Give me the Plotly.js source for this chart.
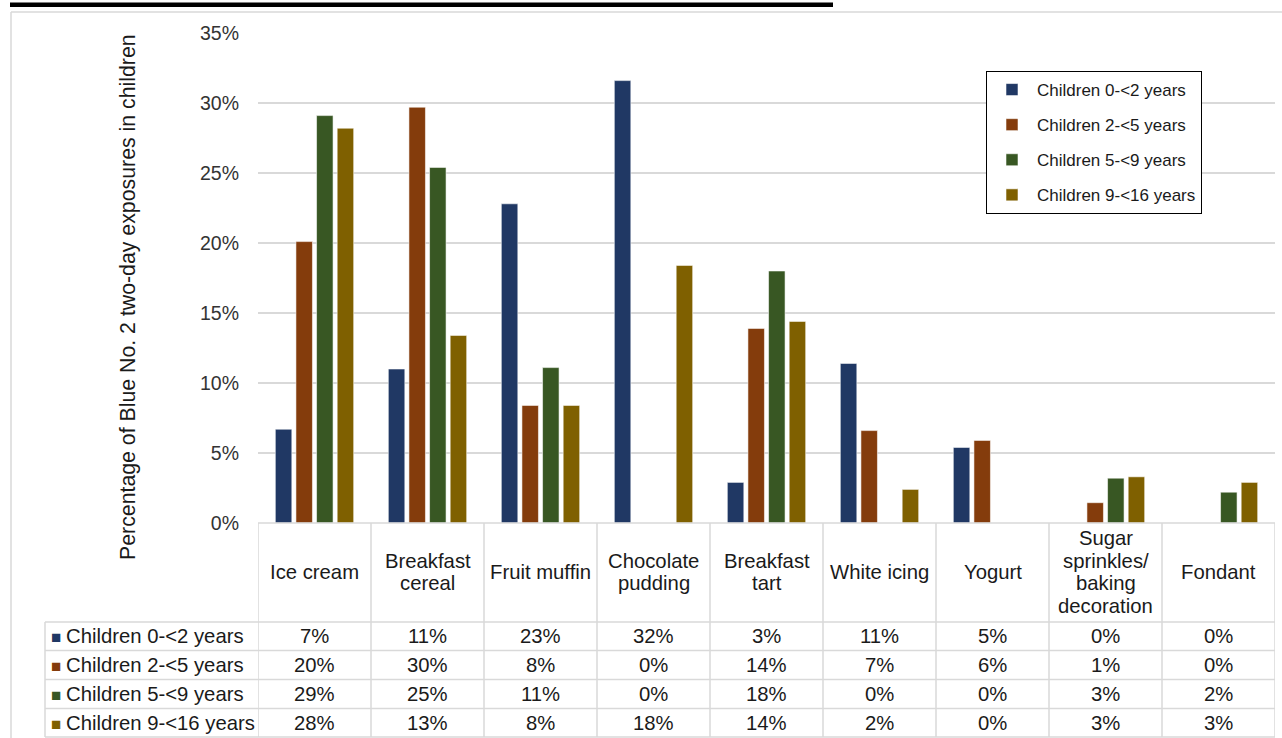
<!DOCTYPE html>
<html>
<head>
<meta charset="utf-8">
<script src="https://cdn.plot.ly/plotly-3.0.1.min.js"></script>
<style>
  html, body { margin: 0; padding: 0; background: #ffffff; }
  #chart { width: 1282px; height: 738px; }
</style>
</head>
<body>
<div id="chart"></div>
<script>
// ---- data ----
const categories = ["Ice cream", "Breakfast<br>cereal", "Fruit muffin", "Chocolate<br>pudding", "Breakfast<br>tart",
  "White icing", "Yogurt", "Sugar<br>sprinkles/<br>baking<br>decoration", "Fondant"];
const seriesNames = ["Children 0-<2 years", "Children 2-<5 years", "Children 5-<9 years", "Children 9-<16 years"];
const children0to2 = [6.7, 11.0, 22.8, 31.6, 2.9, 11.4, 5.4, 0, 0];
const children2to5 = [20.1, 29.7, 8.4, 0, 13.9, 6.6, 5.9, 1.45, 0];
const children5to9 = [29.1, 25.4, 11.1, 0, 18.0, 0, 0, 3.2, 2.2];
const children9to16 = [28.2, 13.4, 8.4, 18.4, 14.4, 2.4, 0, 3.3, 2.9];
const yTickVals = [0, 5, 10, 15, 20, 25, 30, 35];
const yTickText = ["0%", "5%", "10%", "15%", "20%", "25%", "30%", "35%"];
const yTitle = "Percentage of Blue No. 2 two-day exposures in children";

// ---- styles ----
const seriesValues = [children0to2, children2to5, children5to9, children9to16];
const colors = ["#203864", "#843C0C", "#385723", "#7F6000"];
const FONT = "Liberation Sans, Arial, sans-serif";
const W = 1282, H = 738;
const L = 258, R = 1275, T = 33, B = 523;
const px = x => (x - L) / (R - L);
const py = y => (B - y) / (B - T);
const GRID = "#d9d9d9";
const TXT = 20.3;

const traces = seriesValues.map((vals, i) => ({
  type: "bar",
  name: seriesNames[i],
  x: categories,
  y: vals,
  legendgroup: "g" + i,
  marker: { color: colors[i], line: { color: "rgba(255,255,255,0.55)", width: 1 } },
  hoverinfo: "skip"
}));

const shapes = [];
const annotations = [];
const line = (x0, y0, x1, y1, xref, color, width) => shapes.push({
  type: "line", xref: xref || "paper", yref: "paper", x0, y0, x1, y1,
  line: { color: color || GRID, width: width || 1.5 }, layer: "above"
});

// outer chart frame
line(px(11), py(12), px(11), py(738));
line(px(11), py(12), px(1282), py(12));
// cut-off title underline
shapes.push({ type: "rect", xref: "paper", yref: "paper", x0: px(10), x1: px(833), y0: py(2.5), y1: py(7),
  fillcolor: "#000", line: { width: 0 } });

// table: horizontal lines
line(px(L), py(B), px(R), py(B));
const rowLines = [622, 650.5, 679.5, 708.5, 737];
rowLines.forEach(y => line(px(45), py(y), px(R), py(y)));
line(px(45), py(622), px(45), py(737));
// table: vertical lines at category boundaries (in category axis units)
for (let i = 0; i <= categories.length; i++) {
  line(i - 0.5, py(B), i - 0.5, py(737), "x");
}

// header labels, line by line
categories.forEach((c, i) => {
  const parts = c.split("<br>");
  parts.forEach((p, k) => {
    annotations.push({
      xref: "x", yref: "paper", x: i, y: py(572 + (k - (parts.length - 1) / 2) * 22.5),
      text: p, showarrow: false, xanchor: "center", yanchor: "middle",
      font: { family: FONT, size: TXT, color: "#1a1a1a" }
    });
  });
});

// table rows
const rowCenters = [636, 665, 694, 723];
seriesValues.forEach((vals, r) => {
  annotations.push({
    xref: "paper", yref: "paper", x: px(49), y: py(rowCenters[r]),
    text: '<span style="color:' + colors[r] + ';font-size:17px">■ </span>' + seriesNames[r],
    showarrow: false, xanchor: "left", yanchor: "middle",
    font: { family: FONT, size: TXT, color: "#1a1a1a" }
  });
  vals.forEach((v, i) => {
    annotations.push({
      xref: "x", yref: "paper", x: i, y: py(rowCenters[r]),
      text: Math.round(v) + "%", showarrow: false, xanchor: "center", yanchor: "middle",
      font: { family: FONT, size: TXT, color: "#1a1a1a" }
    });
  });
});

// y axis title
annotations.push({
  xref: "paper", yref: "paper", x: px(128), y: py(297), text: yTitle, textangle: -90,
  showarrow: false, xanchor: "center", yanchor: "middle",
  font: { family: FONT, size: 21.3, color: "#1a1a1a" }
});

const layout = {
  width: W, height: H,
  margin: { l: L, r: W - R, t: T, b: H - B, pad: 0 },
  paper_bgcolor: "#ffffff", plot_bgcolor: "#ffffff",
  font: { family: FONT, color: "#1a1a1a" },
  barmode: "group", bargap: 0.27, bargroupgap: 0.2,
  showlegend: true,
  legend: {
    x: px(986), y: py(71), xanchor: "left", yanchor: "top",
    bordercolor: "#000000", borderwidth: 1, bgcolor: "#ffffff",
    font: { family: FONT, size: 17, color: "#1a1a1a" },
    tracegroupgap: 10, traceorder: "grouped", itemclick: false,
    itemwidth: 40, entrywidth: 185, entrywidthmode: "pixels"
  },
  xaxis: {
    type: "category", showticklabels: false, showgrid: false, zeroline: false, showline: false,
    ticks: "", range: [-0.5, categories.length - 0.5], fixedrange: true
  },
  yaxis: {
    range: [0, 35], tickvals: yTickVals, ticktext: yTickText, showgrid: true,
    gridcolor: GRID, gridwidth: 1.5, zeroline: false, showline: false, ticks: "",
    ticklabelstandoff: 18,
    tickfont: { family: FONT, size: 19.5, color: "#333333" }, fixedrange: true
  },
  shapes, annotations
};

Plotly.newPlot("chart", traces, layout, { displayModeBar: false, staticPlot: true });
</script>
</body>
</html>
